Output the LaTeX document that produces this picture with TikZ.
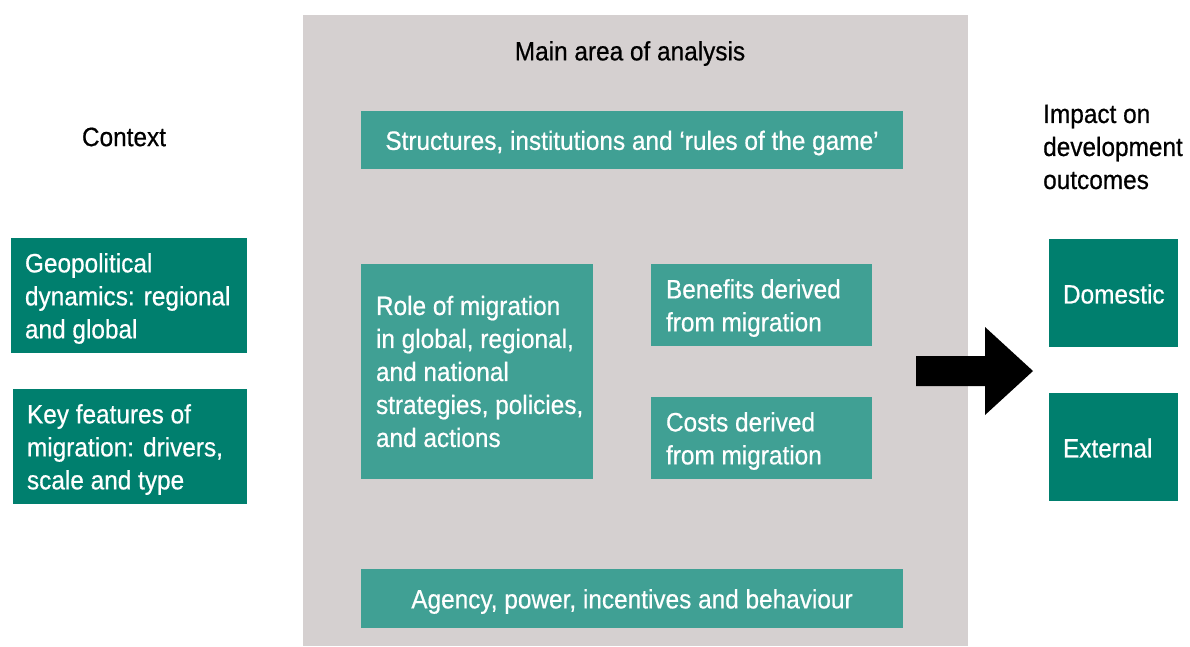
\documentclass[tikz,border=0pt]{standalone}
\usepackage{fontspec}
\setmainfont{Liberation Sans}[FakeStretch=0.92,FakeBold=0.6]
\definecolor{darkteal}{HTML}{007F6E}
\definecolor{liteteal}{HTML}{40A094}
\definecolor{panelgray}{HTML}{D5D0D0}
\begin{document}
\begin{tikzpicture}[x=1pt,y=-1pt,
  txt/.style={inner sep=0pt,align=left,font=\fontsize{26.5}{33}\selectfont},
  wtxt/.style={txt,text=white},
  darkbox/.style={fill=darkteal,draw=none,inner sep=0pt},
  litebox/.style={fill=liteteal,draw=none,inner sep=0pt}]
\useasboundingbox (0,0) rectangle (1190,646);
% main gray panel
\fill[panelgray] (303,15) rectangle (968,646);
\node[txt,anchor=center] (maintitle) at (630,53.5) {Main area of analysis};
% context
\node[txt,anchor=center] (context) at (124,137) {Context};
\node[darkbox,minimum width=236pt,minimum height=115pt] (geo) at (129,295.5) {};
\node[wtxt,anchor=west,yshift=-3pt] (geotxt) at ([xshift=14pt]geo.west) {Geopolitical\\dynamics: regional\\and global};
\node[darkbox,minimum width=234pt,minimum height=115pt] (key) at (130,446.5) {};
\node[wtxt,anchor=west,yshift=-3pt] (keytxt) at ([xshift=14pt]key.west) {Key features of\\migration: drivers,\\scale and type};
% inner boxes
\node[litebox,minimum width=542pt,minimum height=58pt] (struct) at (632,140) {};
\node[wtxt,anchor=center,yshift=-3pt] (structtxt) at (struct.center) {Structures, institutions and ‘rules of the game’};
\node[litebox,minimum width=232pt,minimum height=215pt] (role) at (477,371.5) {};
\node[wtxt,anchor=west] (roletxt) at ([xshift=15pt]role.west) {Role of migration\\in global, regional,\\and national\\strategies, policies,\\and actions};
\node[litebox,minimum width=221pt,minimum height=82pt] (ben) at (761.5,305) {};
\node[wtxt,anchor=west,yshift=-3pt] (bentxt) at ([xshift=15pt]ben.west) {Benefits derived\\from migration};
\node[litebox,minimum width=221pt,minimum height=82pt] (cost) at (761.5,438) {};
\node[wtxt,anchor=west,yshift=-3pt] (costtxt) at ([xshift=15pt]cost.west) {Costs derived\\from migration};
\node[litebox,minimum width=542pt,minimum height=59pt] (agency) at (632,598.5) {};
\node[wtxt,anchor=center,yshift=-3pt] (agencytxt) at (agency.center) {Agency, power, incentives and behaviour};
% impact
\node[txt,anchor=west] (impact) at (1043,147) {Impact on\\development\\outcomes};
\node[darkbox,minimum width=129pt,minimum height=108pt] (dom) at (1113.5,293) {};
\node[wtxt,anchor=west,yshift=-1pt] (domtxt) at ([xshift=14pt]dom.west) {Domestic};
\node[darkbox,minimum width=129pt,minimum height=108pt] (ext) at (1113.5,447) {};
\node[wtxt,anchor=west,yshift=-1pt] (exttxt) at ([xshift=14pt]ext.west) {External};
% big arrow
\coordinate (arrtail) at (916,371);
\fill[black] (arrtail) ++(0,-15) -- (985,356) -- (985,327) -- (1033,371) -- (985,415) -- (985,386) -- (916,386) -- cycle;
\end{tikzpicture}
\end{document}
